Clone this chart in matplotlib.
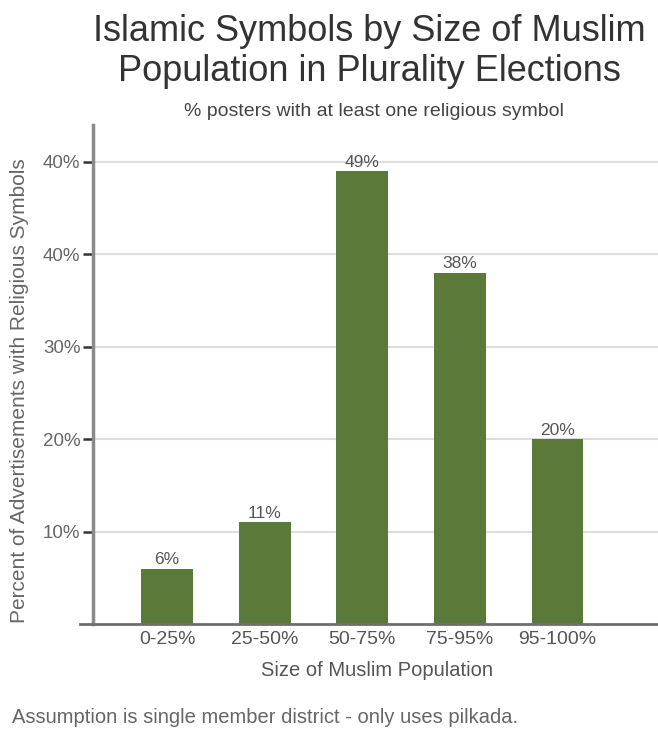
import matplotlib.pyplot as plt

plt.rcParams['font.family'] = ['Liberation Sans', 'DejaVu Sans']

# Share of campaign posters with a religious symbol, by Muslim population band
groups = ["0-25%", "25-50%", "50-75%", "75-95%", "95-100%"]
shares = [6, 11, 49, 38, 20]
bar_labels = ["6%", "11%", "49%", "38%", "20%"]
y_ticks = [10, 20, 30, 40, 50]
y_tick_labels = ["10%", "20%", "30%", "40%", "40%"]

fig = plt.figure(figsize=(6.58, 7.33), dpi=100)
ax = fig.add_axes([0.1413, 0.1487, 0.8587, 0.6808])

x = list(range(len(groups)))
bars = ax.bar(x, shares, width=0.53, color="#5b7a3a", zorder=3)
for b, lab in zip(bars, bar_labels):
    ax.text(b.get_x() + b.get_width() / 2, b.get_height() + 0.15, lab,
            ha="center", va="bottom", fontsize=12.5, color="#555555")

ax.set_xlim(-0.76, 5.03)
ax.set_ylim(0, 54)
ax.set_yticks(y_ticks, y_tick_labels)
ax.set_xticks(x, groups)
ax.yaxis.grid(True, color="#dddddd", linewidth=1.5, zorder=0)
ax.set_axisbelow(True)

for side in ["top", "right", "bottom"]:
    ax.spines[side].set_visible(False)
ax.spines["left"].set_color("#8a8a8a")
ax.spines["left"].set_linewidth(2.5)
# baseline runs a little past the y axis
ax.axhline(0, xmin=-0.023, xmax=1, color="#6e6e6e", linewidth=2, clip_on=False, zorder=4)

ax.tick_params(axis="y", length=7, width=1.8, color="#333333", labelsize=13.5,
               labelcolor="#666666", pad=2)
ax.tick_params(axis="x", length=0, labelsize=14, labelcolor="#555555", pad=5)

fig.text(0.562, 0.930, "Islamic Symbols by Size of Muslim\nPopulation in Plurality Elections",
         ha="center", va="center", fontsize=26, color="#333333", linespacing=1.2)
fig.text(0.568, 0.848, "% posters with at least one religious symbol",
         ha="center", va="center", fontsize=14, color="#444444")
fig.text(0.030, 0.4666, "Percent of Advertisements with Religious Symbols",
         rotation=90, ha="center", va="center", fontsize=15, color="#666666")
fig.text(0.573, 0.0846, "Size of Muslim Population",
         ha="center", va="center", fontsize=14.5, color="#555555")
fig.text(0.018, 0.0205, "Assumption is single member district - only uses pilkada.",
         ha="left", va="center", fontsize=14.5, color="#666666")

fig.savefig("out.png", dpi=100)
